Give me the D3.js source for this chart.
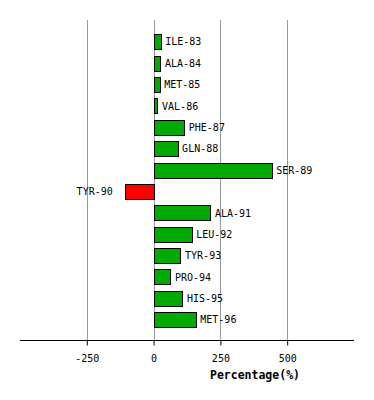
<!DOCTYPE html>
<html>
<head>
<meta charset="utf-8">
<script src="https://cdn.jsdelivr.net/npm/d3@7"></script>
<style>
  body { margin: 0; background: #fff; }
  text { font-family: "DejaVu Sans Mono", monospace; }
</style>
</head>
<body>
<div id="chart"></div>
<script>
// residues and their percentage values
var residues = ["ILE-83","ALA-84","MET-85","VAL-86","PHE-87","GLN-88","SER-89",
                "TYR-90","ALA-91","LEU-92","TYR-93","PRO-94","HIS-95","MET-96"];
var values = [25, 24, 21, 13, 113, 88, 440, -108, 211, 141, 99, 61, 106, 156];
var ticks = [-250, 0, 250, 500];

var width = 374, height = 400;

var svg = d3.select("#chart").append("svg")
    .attr("width", width)
    .attr("height", height);

var x = d3.scaleLinear().domain([-500, 750]).range([20, 354]);
var y = d3.scaleBand().domain(residues).range([31.3, 330.6])
    .paddingInner(0.28).paddingOuter(0.14);

// grid lines
svg.selectAll(".grid")
  .data(ticks)
  .enter().append("line")
    .attr("x1", function(d) { return Math.round(x(d)) + 0.5; })
    .attr("x2", function(d) { return Math.round(x(d)) + 0.5; })
    .attr("y1", 20)
    .attr("y2", 340)
    .attr("stroke", "#999")
    .attr("stroke-width", 1);

var data = residues.map(function(r, i) { return { name: r, value: values[i] }; });

svg.selectAll(".bar")
  .data(data)
  .enter().append("rect")
    .attr("x", function(d) { return Math.round(x(Math.min(0, d.value))) + 0.5; })
    .attr("y", function(d) { return Math.round(y(d.name)) + 0.5; })
    .attr("width", function(d) { return Math.round(Math.abs(x(d.value) - x(0))); })
    .attr("height", Math.round(y.bandwidth()))
    .attr("fill", function(d) { return d.value < 0 ? "#ff0000" : "#00aa00"; })
    .attr("stroke", "#000")
    .attr("stroke-width", 1);

svg.selectAll(".lbl")
  .data(data)
  .enter().append("text")
    .attr("x", function(d) { return d.value < 0 ? x(d.value) - 12 : x(d.value) + 5; })
    .attr("y", function(d) { return y(d.name) + y.bandwidth() / 2; })
    .attr("dy", "0.35em")
    .attr("text-anchor", function(d) { return d.value < 0 ? "end" : "start"; })
    .style("font-size", "10px")
    .text(function(d) { return d.name; });

// x axis
var axis = d3.axisBottom(x).tickValues(ticks).tickSize(5).tickPadding(9)
    .tickFormat(function(d) { return d < 0 ? "-" + Math.abs(d) : d; });
var gx = svg.append("g")
    .attr("transform", "translate(0,340.5)")
    .call(axis);
gx.select(".domain").attr("d", "M20,0H354").attr("stroke", "#000");
gx.selectAll(".tick line").attr("stroke", "#000");
gx.selectAll(".tick text")
    .style("font-family", "DejaVu Sans Mono, monospace")
    .style("font-size", "10px")
    .attr("fill", "#000");

svg.append("text")
    .attr("x", 255)
    .attr("y", 379)
    .attr("text-anchor", "middle")
    .style("font-size", "11.5px")
    .style("font-weight", "bold")
    .text("Percentage(%)");
</script>
</body>
</html>
